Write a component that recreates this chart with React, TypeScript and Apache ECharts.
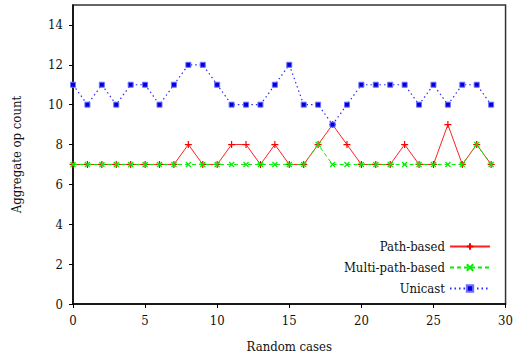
import React, { useEffect, useRef } from "react";
import * as echarts from "echarts";

const cases: number[] = Array.from({ length: 30 }, (_, i) => i);
const pathBased = [7, 7, 7, 7, 7, 7, 7, 7, 8, 7, 7, 8, 8, 7, 8, 7, 7, 8, 9, 8, 7, 7, 7, 8, 7, 7, 9, 7, 8, 7];
const multiPath = [7, 7, 7, 7, 7, 7, 7, 7, 7, 7, 7, 7, 7, 7, 7, 7, 7, 8, 7, 7, 7, 7, 7, 7, 7, 7, 7, 7, 8, 7];
const unicast = [11, 10, 11, 10, 11, 11, 10, 11, 12, 12, 11, 10, 10, 10, 11, 12, 10, 10, 9, 10, 11, 11, 11, 11, 10, 11, 10, 11, 11, 10];
const seriesNames = ["Path-based", "Multi-path-based", "Unicast"];

const FONT = "'DejaVu Serif Condensed', 'DejaVu Serif'";
const FS = 13;

export default function App() {
  const ref = useRef<HTMLDivElement>(null);
  useEffect(() => {
    if (!ref.current) return;
    const chart = echarts.init(ref.current, null, { renderer: "svg" });
    const pair = (arr: number[]) => cases.map((c, i) => [c, arr[i]]);
    chart.setOption({
      animation: false,
      textStyle: { fontFamily: FONT },
      grid: {
        left: 73,
        right: 9,
        top: 5,
        bottom: 53,
        show: true,
        borderColor: "#333",
        borderWidth: 1.5,
      },
      xAxis: {
        type: "value",
        min: 0,
        max: 30,
        interval: 5,
        name: "Random cases",
        nameLocation: "middle",
        nameGap: 36,
        nameTextStyle: { fontFamily: FONT, fontSize: FS, color: "#111" },
        axisLine: { show: true, onZero: false, lineStyle: { color: "#000", width: 1.5 } },
        axisTick: { show: true, inside: false, length: 4, lineStyle: { color: "#000" } },
        axisLabel: { fontFamily: FONT, fontSize: FS, color: "#111", margin: 10 },
        splitLine: { show: false },
      },
      yAxis: {
        type: "value",
        min: 0,
        max: 15,
        interval: 2,
        name: "Aggregate op count",
        nameLocation: "middle",
        nameGap: 50,
        nameTextStyle: { fontFamily: FONT, fontSize: FS, color: "#111" },
        axisLine: { show: true, onZero: false, lineStyle: { color: "#000", width: 1.5 } },
        axisTick: { show: true, inside: false, length: 4, lineStyle: { color: "#000" } },
        axisLabel: { fontFamily: FONT, fontSize: FS, color: "#111", margin: 10, showMaxLabel: false },
        splitLine: { show: false },
      },
      legend: {
        orient: "vertical",
        right: 20,
        bottom: 58,
        itemGap: 8,
        itemWidth: 40,
        itemHeight: 8,
        align: "right",
        data: seriesNames,
        textStyle: { fontFamily: FONT, fontSize: FS, color: "#111", width: 130, align: "right" },
      },
      series: [
        {
          name: seriesNames[0],
          type: "line",
          data: pair(pathBased),
          symbol: "path://M0,5L10,5M5,0L5,10",
          symbolSize: 7,
          lineStyle: { color: "#ff2020", width: 1, type: "solid" },
          itemStyle: { color: "#ff0000", borderColor: "#ff0000", borderWidth: 1.2 },
          z: 3,
        },
        {
          name: seriesNames[1],
          type: "line",
          data: pair(multiPath),
          symbol: "path://M0,0L10,10M10,0L0,10",
          symbolSize: 5,
          lineStyle: { color: "#00ee00", width: 1, type: [4, 3] },
          itemStyle: { color: "#00ee00", borderColor: "#00ee00", borderWidth: 1.2 },
          z: 4,
        },
        {
          name: seriesNames[2],
          type: "line",
          data: pair(unicast),
          symbol: "rect",
          symbolSize: 5,
          lineStyle: { color: "#2a2aff", width: 1.2, type: [1.5, 3] },
          itemStyle: { color: "#0000dd", borderColor: "#7070ff", borderWidth: 1 },
          z: 5,
        },
      ],
    });
    return () => chart.dispose();
  }, []);
  return <div ref={ref} style={{ width: 516, height: 358, position: "absolute", left: 0, top: 0, background: "#fff" }} />;
}
